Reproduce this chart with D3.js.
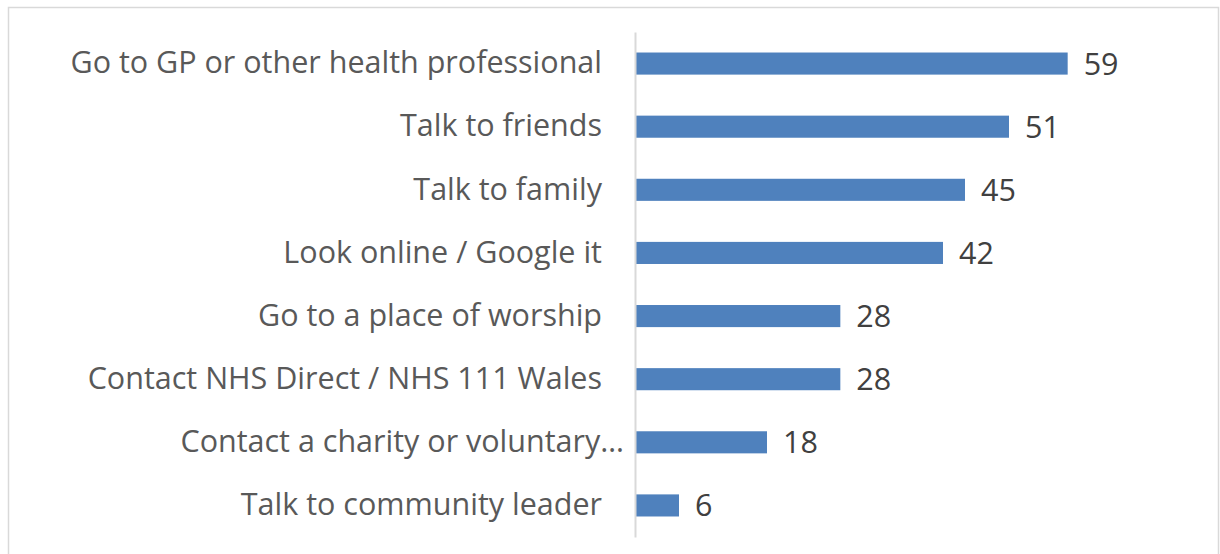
<!DOCTYPE html>
<html>
<head>
<meta charset="utf-8">
<script src="https://cdn.jsdelivr.net/npm/d3@7"></script>
<style>
  html, body { margin: 0; padding: 0; background: #fff; }
  svg { display: block; }
</style>
</head>
<body>
<svg id="chart" width="1220" height="554"></svg>
<script>
const categories = [
  "Go to GP or other health professional",
  "Talk to friends",
  "Talk to family",
  "Look online / Google it",
  "Go to a place of worship",
  "Contact NHS Direct / NHS 111 Wales",
  "Contact a charity or voluntary…",
  "Talk to community leader"
];
const values = [59, 51, 45, 42, 28, 28, 18, 6];

const svg = d3.select("#chart");

// chart frame
svg.append("rect")
  .attr("x", 8.5).attr("y", 7.5)
  .attr("width", 1210).attr("height", 560)
  .attr("fill", "#fff")
  .attr("stroke", "#d9d9d9").attr("stroke-width", 1.5);

const axisX = 635;
const x = d3.scaleLinear().domain([0, 60]).range([axisX, axisX + 440]);
const y = d3.scaleBand().domain(categories).range([32, 537]).paddingInner(0.65).paddingOuter(0.325);

const font = "'Open Sans', 'Noto Sans', sans-serif";
const fontSize = 30.5;

// bars
svg.append("g").selectAll("rect")
  .data(values)
  .join("rect")
  .attr("x", x(0))
  .attr("y", (d, i) => y(categories[i]))
  .attr("width", d => x(d) - x(0))
  .attr("height", y.bandwidth())
  .attr("fill", "#4f81bd");

// vertical category axis
const yAxis = d3.axisLeft(y).tickSize(0).tickPadding(33);
const gy = svg.append("g").attr("transform", `translate(${axisX},0)`).call(yAxis);
gy.select(".domain").attr("stroke", "#d9d9d9").attr("stroke-width", 2);
gy.selectAll("text")
  .attr("font-family", font)
  .attr("font-size", fontSize)
  .attr("fill", "#595959")
  .attr("dy", "0.32em")
  .each(function(d) {
    // clipped labels spill slightly into the gap
    if (d.endsWith("…")) d3.select(this).attr("x", -11);
  });

// value labels
svg.append("g").selectAll("text")
  .data(values)
  .join("text")
  .attr("x", d => x(d) + 16)
  .attr("y", (d, i) => y(categories[i]) + y.bandwidth() / 2)
  .attr("dy", "0.36em")
  .attr("font-family", font)
  .attr("font-size", fontSize)
  .attr("fill", "#404040")
  .text(d => d);
</script>
</body>
</html>
